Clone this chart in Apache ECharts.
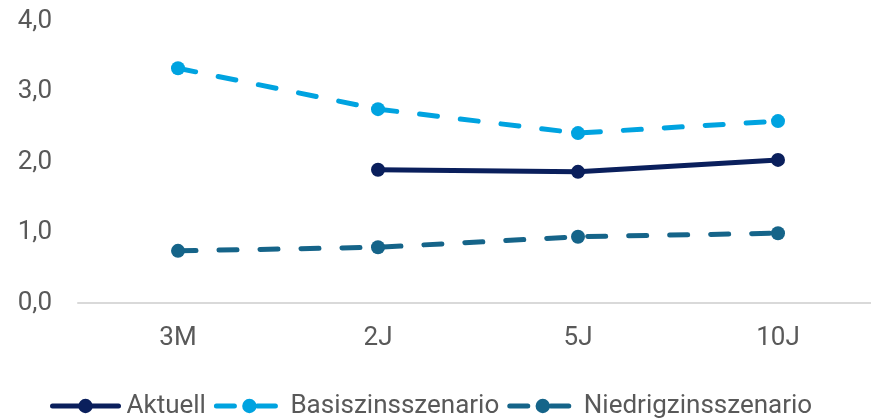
<!DOCTYPE html>
<html><head><meta charset="utf-8">
<script src="https://cdn.jsdelivr.net/npm/echarts@6/dist/echarts.min.js"></script>
<style>html,body{margin:0;padding:0;background:#fff}#c{width:871px;height:418px}</style>
</head><body><div id="c"></div>
<script>
const categories = ['3M', '2J', '5J', '10J'];
const aktuell = [null, 1.89, 1.86, 2.03];
const basis = [3.33, 2.75, 2.41, 2.58];
const niedrig = [0.74, 0.79, 0.94, 0.99];
const yTicks = [0, 1, 2, 3, 4];

const chart = echarts.init(document.getElementById('c'));
const font = 'Roboto, "Noto Sans", sans-serif';
function ser(name, data, color, dashed) {
  return {
    name, type: 'line', data, symbol: 'circle', symbolSize: 14,
    connectNulls: false,
    lineStyle: { color, width: 5, type: dashed ? [18, 23] : 'solid', cap: 'round' },
    itemStyle: { color },
    emphasis: { disabled: true }
  };
}
chart.setOption({
  animation: false,
  grid: { left: 78, width: 800, top: 21, bottom: 115, outerBoundsMode: 'none', containLabel: false },
  legend: {
    bottom: -6, left: 45, itemWidth: 66, itemHeight: 18, itemGap: 8,
    textStyle: { fontSize: 26, color: '#595959', fontFamily: font, padding: [0, 0, 0, 3] },
    lineStyle: { width: 5 },
    data: ['Aktuell', 'Basiszinsszenario', 'Niedrigzinsszenario']
  },
  xAxis: {
    type: 'category', data: categories, boundaryGap: true,
    axisLine: { lineStyle: { color: '#d9d9d9', width: 2 } },
    axisTick: { show: false },
    axisLabel: { fontSize: 26, color: '#595959', fontFamily: font, margin: 22 }
  },
  yAxis: {
    type: 'value', min: 0, max: 4, interval: 1,
    splitLine: { show: false },
    axisLine: { show: false }, axisTick: { show: false },
    axisLabel: { fontSize: 26, color: '#595959', fontFamily: font, margin: 26,
      formatter: v => yTicks.includes(v) ? v.toFixed(1).replace('.', ',') : '' }
  },
  series: [
    ser('Aktuell', aktuell, '#0a1f5c', false),
    ser('Basiszinsszenario', basis, '#00a3e0', true),
    ser('Niedrigzinsszenario', niedrig, '#156489', true)
  ]
});
</script></body></html>
